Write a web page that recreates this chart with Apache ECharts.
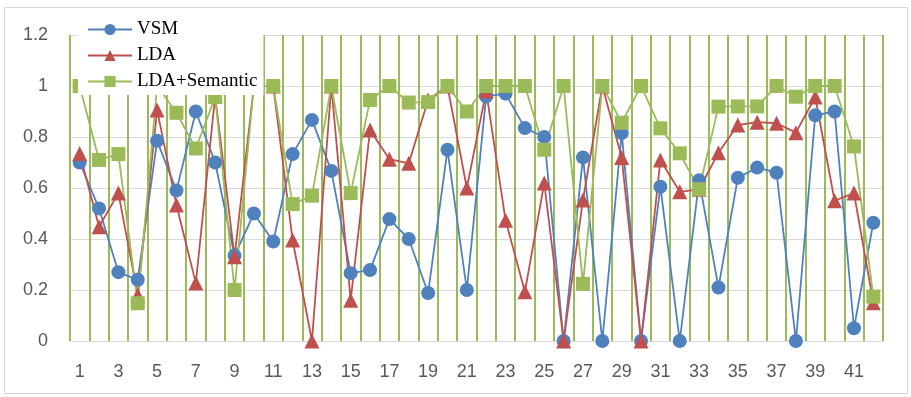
<!DOCTYPE html>
<html>
<head>
<meta charset="utf-8">
<script src="https://cdn.jsdelivr.net/npm/echarts@6/dist/echarts.min.js"></script>
<style>
html,body{margin:0;padding:0;background:#fff;}
#chart{width:911px;height:397px;}
</style>
</head>
<body>
<div id="chart"></div>
<script>
const categories = ['1','2','3','4','5','6','7','8','9','10','11','12','13','14','15','16','17','18','19','20','21','22','23','24','25','26','27','28','29','30','31','32','33','34','35','36','37','38','39','40','41','42'];
const vsm = [0.70,0.52,0.27,0.24,0.785,0.59,0.90,0.70,0.335,0.50,
             0.39,0.733,0.867,0.667,0.266,0.278,0.478,0.40,0.188,0.75,
             0.20,0.96,0.97,0.835,0.80,0,0.72,0,0.815,0,
             0.605,0,0.63,0.21,0.64,0.68,0.66,0,0.885,0.90,
             0.05,0.464];
const lda = [0.735,0.448,0.58,0.18,0.906,0.533,0.227,0.96,0.33,1.0,
             1.0,0.396,0,1.0,0.16,0.827,0.713,0.697,0.945,1.0,
             0.60,0.98,0.474,0.193,0.62,0,0.553,1.0,0.72,0,
             0.71,0.585,0.595,0.738,0.847,0.858,0.854,0.817,0.957,0.55,
             0.58,0.15];
const ldaSem = [1.0,0.71,0.733,0.148,1.0,0.895,0.755,0.957,0.20,1.0,
                1.0,0.537,0.57,1.0,0.58,0.945,1.0,0.935,0.937,1.0,
                0.90,1.0,1.0,1.0,0.75,1.0,0.224,1.0,0.856,1.0,
                0.834,0.736,0.595,0.919,0.92,0.92,1.0,0.958,1.0,1.0,
                0.763,0.174];
const seriesNames = ['VSM','LDA','LDA+Semantic'];
const colors = ['#4F81BD','#C0504D','#9BBB59'];

const chart = echarts.init(document.getElementById('chart'), null, {renderer:'canvas'});
function mk(name, data, color, symbol, size) {
  return {
    name: name, type: 'line', data: data,
    symbol: symbol, symbolSize: size,
    showSymbol: true, showAllSymbol: true,
    lineStyle: {color: color, width: 1.8},
    itemStyle: {color: color},
    animation: false
  };
}
chart.setOption({
  animation: false,
  color: colors,
  graphic: [{
    type: 'rect', z: -10,
    shape: {x: 4.5, y: 7.5, width: 903, height: 386},
    style: {fill: '#fff', stroke: '#D9D9D9', lineWidth: 1}
  }],
  grid: {left: 70, right: 28, top: 35, bottom: 56, containLabel: false},
  legend: {
    orient: 'vertical', left: 78, top: 12,
    padding: [8, 6, 4, 9],
    backgroundColor: '#fff',
    itemWidth: 44, itemHeight: 14, itemGap: 7,
    textStyle: {fontFamily: 'Liberation Serif', fontSize: 19, color: '#000'},
    data: seriesNames
  },
  xAxis: {
    type: 'category', data: categories, boundaryGap: true,
    axisLine: {show: true, lineStyle: {color: '#D9D9D9', width: 1}},
    axisTick: {show: false},
    axisLabel: {interval: 1, color: '#595959', fontFamily: 'Liberation Sans', fontSize: 18, margin: 22},
    splitLine: {show: true, interval: 0, lineStyle: {color: '#9BBB59', width: 2}}
  },
  yAxis: {
    type: 'value', min: 0, max: 1.2, interval: 0.2,
    axisLine: {show: false}, axisTick: {show: false},
    axisLabel: {color: '#595959', fontFamily: 'Liberation Sans', fontSize: 18, margin: 22,
      formatter: function(v){ return String(Math.round(v*10)/10); }},
    splitLine: {show: true, lineStyle: {color: '#D9D9D9', width: 1}}
  },
  series: [
    mk(seriesNames[0], vsm, colors[0], 'circle', 14),
    mk(seriesNames[1], lda, colors[1], 'triangle', 15),
    mk(seriesNames[2], ldaSem, colors[2], 'rect', 14)
  ]
});
</script>
</body>
</html>
